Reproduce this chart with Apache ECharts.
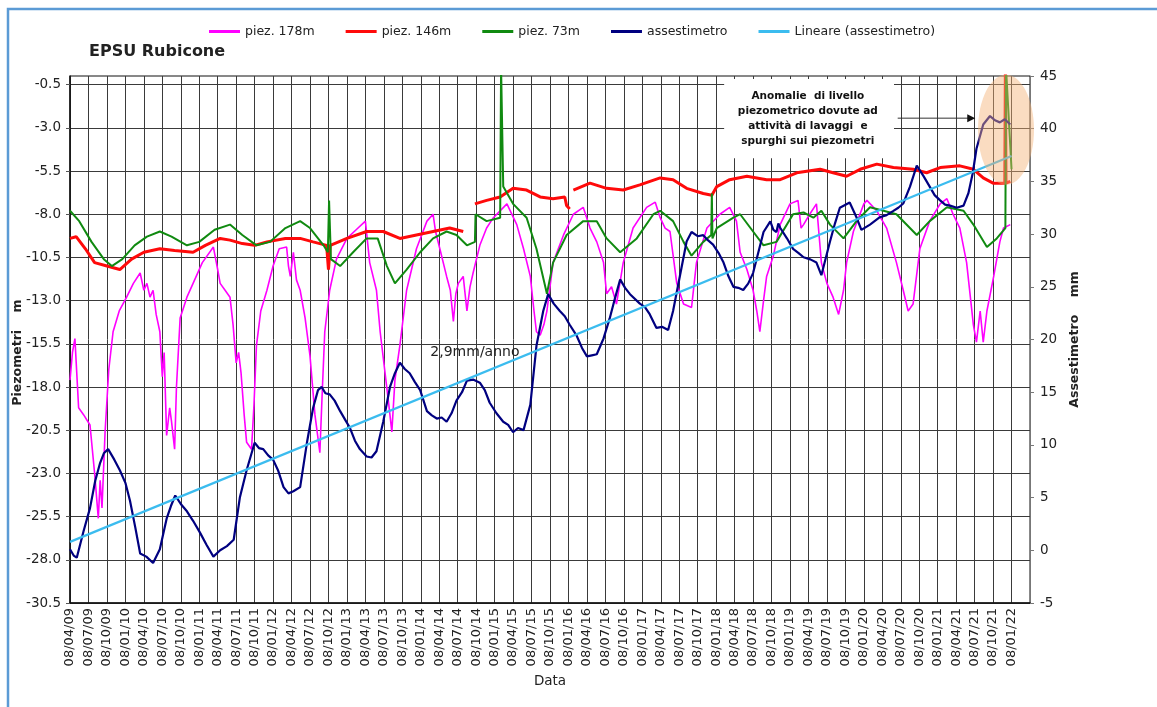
<!DOCTYPE html>
<html><head><meta charset="utf-8">
<script src="https://cdn.jsdelivr.net/npm/echarts@6/dist/echarts.min.js"></script>
<style>html,body{margin:0;padding:0;background:#fff}#c{width:1157px;height:707px}</style>
</head><body><div id="c"></div>
<script>
// x values are months elapsed since 08/04/09
const tickLabels = ['08/04/09','08/07/09','08/10/09',
 '08/01/10','08/04/10','08/07/10','08/10/10',
 '08/01/11','08/04/11','08/07/11','08/10/11',
 '08/01/12','08/04/12','08/07/12','08/10/12',
 '08/01/13','08/04/13','08/07/13','08/10/13',
 '08/01/14','08/04/14','08/07/14','08/10/14',
 '08/01/15','08/04/15','08/07/15','08/10/15',
 '08/01/16','08/04/16','08/07/16','08/10/16',
 '08/01/17','08/04/17','08/07/17','08/10/17',
 '08/01/18','08/04/18','08/07/18','08/10/18',
 '08/01/19','08/04/19','08/07/19','08/10/19',
 '08/01/20','08/04/20','08/07/20','08/10/20',
 '08/01/21','08/04/21','08/07/21','08/10/21',
 '08/01/22'];
const leftTicks = [-30.5,-28,-25.5,-23,-20.5,-18,-15.5,-13,-10.5,-8,-5.5,-3,-0.5];
const seriesNames = ['piez. 178m','piez. 146m','piez. 73m','assestimetro','Lineare (assestimetro)'];

const piez178 = [[0,-17.6],[0.4,-16.0],[0.8,-15.2],[1.4,-19.2],[2.2,-19.6],[3.25,-20.2],[4.0,-23.0],[4.6,-25.6],[4.9,-23.4],[5.2,-25.0],[5.7,-20.6],[6.3,-17.0],[7,-14.8],[8,-13.6],[9.2,-12.8],[10.3,-12.0],[11.4,-11.4],[12.0,-12.4],[12.5,-12.0],[13.0,-12.8],[13.5,-12.4],[14.0,-13.8],[14.6,-14.8],[15.0,-17.4],[15.3,-16.0],[15.7,-20.8],[16.2,-19.2],[16.5,-20.0],[17,-21.6],[17.3,-18.0],[17.9,-14],[19,-12.8],[20,-12],[21.5,-10.8],[23.3,-9.9],[24.0,-11.2],[24.4,-12],[25.2,-12.4],[26,-12.8],[26.5,-14.4],[27,-16.6],[27.4,-16.0],[27.8,-17.2],[28.3,-19.6],[28.7,-21.2],[29.5,-21.6],[29.9,-19.0],[30.3,-15.6],[31,-13.6],[32,-12.4],[33,-11.0],[34,-10],[35.2,-9.9],[35.5,-11.0],[35.8,-11.6],[36.3,-10.2],[36.8,-11.8],[37.4,-12.4],[38.2,-14.0],[39,-16.2],[39.8,-19.6],[40.6,-21.8],[41,-18.2],[41.4,-14.8],[42.2,-12.4],[43.3,-10.6],[45,-9.4],[46.5,-8.9],[48,-8.4],[48.7,-10.8],[49.8,-12.4],[50.4,-14.8],[51.2,-17.2],[51.8,-19.0],[52.3,-20.6],[52.8,-17.6],[53.6,-15.6],[54.7,-12.4],[56.3,-10],[58,-8.4],[59,-8.0],[59.4,-9.0],[60.1,-10],[61.2,-11.6],[61.8,-12.4],[62.3,-14.2],[62.7,-12.6],[63.1,-12.0],[63.9,-11.6],[64.5,-13.6],[65.0,-12.2],[65.5,-11.4],[66.6,-9.8],[67.7,-8.8],[68.8,-8.2],[71,-7.4],[72.6,-8.6],[73.7,-10],[74.8,-11.6],[75.4,-13.6],[75.8,-14.8],[76.4,-15],[77,-14.4],[77.5,-13.6],[78.5,-10.8],[80.2,-9.2],[81.8,-8.0],[83.4,-7.6],[84.5,-8.8],[85.6,-9.6],[86.7,-10.8],[87.2,-12.6],[88,-12.2],[88.8,-13.2],[89.9,-10.8],[91.5,-8.8],[93.7,-7.6],[95.1,-7.3],[95.9,-8.2],[96.7,-8.8],[97.5,-9.0],[98.6,-12],[99.7,-13.2],[101,-13.4],[101.8,-10.8],[103.5,-8.8],[105.6,-8.0],[107.2,-7.6],[108.3,-8.4],[108.9,-10.2],[110,-11.2],[111,-12.4],[111.6,-13.6],[112.1,-14.8],[112.7,-13.0],[113.2,-11.6],[114.3,-10.4],[115.4,-8.6],[117,-7.4],[118.3,-7.2],[118.8,-8.8],[119.2,-8.6],[120.2,-8.0],[121.3,-7.4],[122.1,-10.8],[123,-12.0],[124,-12.8],[124.9,-13.8],[125.7,-12.4],[126.2,-10.8],[127.3,-9.0],[129,-7.4],[129.5,-7.2],[131.1,-7.8],[132.7,-8.8],[134.3,-10.8],[135.4,-12.4],[136.2,-13.6],[137,-13.2],[138.1,-10],[139.7,-8.4],[141.4,-7.4],[142.5,-7.1],[143.5,-8.0],[144.6,-8.8],[145.7,-10.8],[146.8,-14.4],[147.3,-15.4],[147.9,-13.6],[148.4,-15.4],[149,-13.6],[150.1,-11.6],[151.1,-9.6],[151.7,-8.8],[152.8,-8.6]];

const piez146 = [[0,-9.4],[1,-9.3],[2.5,-10.0],[4,-10.8],[6,-11.0],[8.1,-11.2],[10,-10.6],[12,-10.2],[14.6,-10.0],[17,-10.1],[20,-10.2],[22,-9.8],[24.4,-9.4],[26,-9.5],[28,-9.7],[30,-9.8],[32,-9.6],[35,-9.4],[37.4,-9.4],[39.5,-9.6],[41.7,-9.8],[42.0,-11.2],[42.3,-9.8],[45,-9.4],[48.2,-9.0],[50.9,-9.0],[53.6,-9.4],[56.3,-9.2],[59,-9.0],[61.7,-8.8],[63.9,-9.0],[64.5,'-'],[65.8,-7.4],[67.7,-7.2],[69.9,-7.0],[72,-6.5],[74.2,-6.6],[76.4,-7.0],[78.5,-7.1],[80.4,-7.0],[80.7,-7.5],[81.2,-7.7],[81.5,'-'],[81.8,-6.6],[84.5,-6.2],[87.2,-6.5],[89.9,-6.6],[92.6,-6.3],[95.9,-5.9],[98,-6.0],[100.2,-6.5],[102.9,-6.8],[104.3,-6.9],[105.1,-6.4],[107.2,-6.0],[110,-5.8],[113.2,-6.0],[115.4,-6.0],[118.1,-5.6],[121.9,-5.4],[124,-5.6],[126.2,-5.8],[128.4,-5.4],[131.1,-5.1],[133.8,-5.3],[137,-5.4],[139.2,-5.6],[141.4,-5.3],[144.6,-5.2],[146.8,-5.4],[148.4,-5.9],[150,-6.2],[151.9,-6.2],[152,0.5],[152.1,-6.2],[152.8,-6.1]];

const piez73 = [[0,-7.8],[1.5,-8.4],[3.5,-9.6],[5.5,-10.6],[6.8,-11.0],[8.5,-10.6],[10.5,-9.8],[12.5,-9.3],[14.6,-9.0],[16.5,-9.3],[19,-9.8],[21,-9.6],[23.5,-8.9],[26,-8.6],[28,-9.2],[30.3,-9.8],[32.5,-9.6],[35,-8.8],[37.4,-8.4],[39,-8.8],[41.2,-9.8],[41.9,-10.2],[42.1,-7.2],[42.4,-10.6],[43.9,-11.0],[46,-10.2],[48.2,-9.4],[50,-9.4],[51.5,-11],[52.8,-12],[54.7,-11.2],[56.9,-10.2],[59,-9.4],[61.2,-9.0],[62.8,-9.2],[64.5,-9.8],[65.8,-9.6],[65.9,-8.0],[67.7,-8.4],[69.9,-8.2],[70.05,0.5],[70.4,-6.4],[72,-7.4],[74.2,-8.2],[75.8,-10],[77.5,-12.6],[78.5,-10.8],[80.7,-9.2],[83.4,-8.4],[85.6,-8.4],[87.2,-9.4],[89.4,-10.2],[92.1,-9.4],[94.8,-8.0],[95.9,-7.8],[98,-8.4],[99.7,-9.6],[101,-10.4],[102.9,-9.6],[104.2,-9.2],[104.3,-6.8],[104.4,-9.4],[105.1,-8.8],[107.8,-8.2],[108.9,-8.0],[111,-9.0],[112.7,-9.8],[114.8,-9.6],[117.5,-8.0],[119.2,-7.9],[120.8,-8.2],[122.1,-7.8],[123.5,-8.6],[125.7,-9.4],[127.8,-8.4],[130,-7.6],[132.2,-7.8],[134.3,-8.0],[137.6,-9.2],[139.7,-8.4],[142.5,-7.6],[145.2,-7.8],[146.8,-8.6],[149,-9.9],[150.6,-9.4],[152,-8.8],[152.1,0.5],[153,-5.4]];

const assestimetro = [[0,0.1],[0.6,-0.5],[1.1,-0.7],[2.2,1.8],[3.25,4.0],[4.1,6.6],[4.9,8.3],[5.5,9.2],[6.2,9.6],[7.2,8.6],[8.1,7.6],[9,6.4],[9.75,4.7],[10.6,2.2],[11.4,-0.3],[12.4,-0.6],[13.5,-1.2],[14.6,0.1],[15.7,3.0],[16.4,4.2],[17.1,5.2],[18,4.4],[19,3.7],[20,2.8],[21.1,1.7],[22.2,0.5],[23.3,-0.6],[24.4,0.0],[25.5,0.4],[26.6,1.0],[27.6,5.0],[28.7,7.6],[29.4,9.0],[30,10.2],[30.7,9.7],[31.4,9.6],[32.2,9.0],[33,8.6],[33.8,7.6],[34.7,6.0],[35.5,5.4],[36.3,5.6],[37.4,6.0],[38.5,10.2],[39.5,13.5],[40.3,15.2],[40.9,15.5],[41.5,14.9],[42.2,14.8],[43,14.2],[43.9,13.2],[44.7,12.4],[45.5,11.6],[46.3,10.4],[47.1,9.6],[48.2,8.9],[49,8.8],[49.8,9.4],[50.9,12.2],[52,15.5],[52.8,16.8],[53.6,17.8],[54.4,17.2],[55.2,16.8],[56,16.0],[56.9,15.2],[58,13.2],[58.8,12.8],[59.6,12.5],[60.4,12.6],[61.2,12.2],[62,13.0],[62.8,14.2],[63.7,15.0],[64.5,16.1],[65.5,16.2],[66.6,15.9],[67.4,15.2],[68.2,14.0],[69.3,13.0],[70.4,12.2],[71.2,11.9],[72,11.2],[72.8,11.6],[73.7,11.4],[74.8,13.8],[75.8,19.4],[76.9,22.7],[77.7,24.3],[78.6,23.4],[79.6,22.7],[80.4,22.2],[81.2,21.4],[82.3,20.4],[83.2,19.2],[84,18.4],[84.8,18.5],[85.6,18.6],[86.7,20.1],[87.7,22],[88.6,24.0],[89.4,25.7],[90.2,24.9],[91,24.3],[92.6,23.4],[93.4,23.1],[94.2,22.4],[95.3,21.1],[96.2,21.2],[97.2,20.9],[98,22.7],[99.1,26],[100.2,29.3],[101,30.2],[102,29.8],[102.9,29.9],[103.7,29.4],[104.5,29],[105.4,28.2],[106.2,27.3],[107,26.0],[107.8,25],[108.6,24.9],[109.4,24.7],[110.2,25.3],[111,26.3],[112.7,30.2],[113.8,31.2],[114.3,30.4],[114.8,30.2],[115.1,31.0],[115.4,30.6],[116.5,29.6],[117.5,28.6],[118.4,28.2],[119.2,27.8],[120.3,27.6],[121.3,27.3],[122.1,26.1],[123.5,29.3],[124.3,31.0],[125.1,32.5],[126.7,33],[127.8,31.6],[128.6,30.4],[130,30.9],[131.6,31.6],[132.7,31.8],[133.8,32.2],[134.6,32.5],[135.4,32.9],[136.5,34.5],[137.6,36.5],[138.7,35.5],[139.7,34.5],[140.5,33.7],[141.4,33.2],[142.2,32.8],[143,32.7],[144.1,32.5],[145.2,32.7],[146,33.9],[146.7,35.8],[147.3,38.1],[148.4,40.4],[149.5,41.2],[150.3,40.8],[151.1,40.6],[151.9,40.9],[152.8,40.4]];

const lineare = [[0,0.8],[153,37.4]];

const FONT = 'DejaVu Sans';
const chart = echarts.init(document.getElementById('c'), null, {renderer:'canvas'});
const mkLine = (name, data, color, width, yIdx) => ({
  name, type:'line', data, yAxisIndex:yIdx, symbol:'none', showSymbol:false,
  lineStyle:{color, width}, itemStyle:{color}, connectNulls:false, animation:false, clip:true
});
const option = {
  animation:false,
  backgroundColor:'#fff',
  textStyle:{fontFamily:FONT},
  title:{text:'EPSU Rubicone', left:89, top:44, padding:0,
    textStyle:{fontFamily:FONT, fontSize:16, fontWeight:'bold', color:'#222'}},
  legend:{data:seriesNames, left:209, top:25, padding:0, itemWidth:31, itemHeight:3, itemGap:31,
    icon:'rect',
    textStyle:{fontFamily:FONT, fontSize:12.5, color:'#222'}},
  grid:{left:70, right:127, top:76, bottom:104, containLabel:false, outerBoundsMode:'none',
    show:true, borderColor:'#111', borderWidth:1},
  xAxis:{type:'value', min:0, max:156, interval:3, name:'Data', nameLocation:'middle', nameGap:71,
    nameMoveOverlap:false,
    nameTextStyle:{fontFamily:FONT, fontSize:13.5, color:'#222'},
    axisLine:{show:true, onZero:false, lineStyle:{color:'#111', width:1.5}},
    axisTick:{show:false},
    axisLabel:{rotate:90, fontFamily:FONT, fontSize:13, color:'#222', margin:5,
      formatter:(v)=>{const i=Math.round(v/3); return (tickLabels[i]!==undefined)?tickLabels[i]:'';}},
    splitLine:{show:true, lineStyle:{color:'#3a3a3a', width:1}}},
  yAxis:[
    {type:'value', min:-30.5, max:0, position:'left', name:'Piezometri    m      ',
     nameLocation:'middle', nameGap:46, nameRotate:90, nameMoveOverlap:false,
     nameTextStyle:{fontFamily:FONT, fontSize:12.5, fontWeight:'bold', color:'#222'},
     axisLine:{show:true, onZero:false, lineStyle:{color:'#111', width:1.5}},
     axisTick:{show:true, customValues:leftTicks, length:4, lineStyle:{color:'#555'}},
     axisLabel:{customValues:leftTicks, fontFamily:FONT, fontSize:13.5, color:'#222', margin:9,
       formatter:(v)=>Number(v).toFixed(1)},
     splitLine:{show:true, lineStyle:{color:'#3a3a3a', width:1}}},
    {type:'value', min:-5, max:45, interval:5, position:'right', name:'Assestimetro    mm',
     nameLocation:'middle', nameGap:38, nameRotate:90, nameMoveOverlap:false,
     nameTextStyle:{fontFamily:FONT, fontSize:12.5, fontWeight:'bold', color:'#222'},
     axisLine:{show:true, onZero:false, lineStyle:{color:'#777', width:1}},
     axisTick:{show:true, length:4, lineStyle:{color:'#777'}},
     axisLabel:{fontFamily:FONT, fontSize:13.5, color:'#222', margin:10},
     splitLine:{show:false}}
  ],
  series:[
    mkLine(seriesNames[0], piez178, '#ff00ff', 1.6, 0),
    mkLine(seriesNames[1], piez146, '#ff0a0a', 3, 0),
    mkLine(seriesNames[2], piez73, '#108a10', 2, 0),
    mkLine(seriesNames[3], assestimetro, '#000080', 2.2, 1),
    mkLine(seriesNames[4], lineare, '#3bbcef', 2.2, 1)
  ]
};
chart.setOption(option);

// annotations anchored to data coordinates (month, mm)
const P = (m, r) => chart.convertToPixel({seriesIndex:3}, [m, r]);
const boxA = P(106.3, 45), boxB = P(133.9, 37.2);
const txtC = P(119.9, 40.9);
const arA = P(134.5, 41.0), arB = P(147.1, 41.0);
const ell = P(152.1, 39.9);
const trendTxt = P(65.8, 18.8);
chart.setOption({graphic:[
  {type:'rect', silent:true, z:100, zlevel:0, shape:{x:8, y:9, width:1300, height:900},
   style:{fill:'none', stroke:'#5b9bd5', lineWidth:2.5}},
  {type:'rect', silent:true, z:1, shape:{x:boxA[0], y:boxA[1]+3, width:boxB[0]-boxA[0], height:boxB[1]-boxA[1]-3},
   style:{fill:'#fff'}},
  {type:'text', silent:true, z:100, x:txtC[0], y:txtC[1],
   style:{text:'Anomalie  di livello\npiezometrico dovute ad\nattività di lavaggi  e\nspurghi sui piezometri',
     align:'center', verticalAlign:'middle', lineHeight:15, fill:'#111',
     font:'bold 10.5px "DejaVu Sans"'}},
  {type:'line', silent:true, z:100, shape:{x1:arA[0], y1:arA[1], x2:arB[0]-7, y2:arB[1]},
   style:{stroke:'#333', lineWidth:1}},
  {type:'polygon', silent:true, z:100, shape:{points:[[arB[0],arB[1]],[arB[0]-8,arB[1]-4],[arB[0]-8,arB[1]+4]]},
   style:{fill:'#111'}},
  {type:'ellipse', silent:true, z:100, shape:{cx:ell[0], cy:ell[1], rx:28, ry:55},
   style:{fill:'rgba(244,178,118,0.45)'}},
  {type:'text', silent:true, z:100, x:trendTxt[0], y:trendTxt[1],
   style:{text:'2,9mm/anno', align:'center', verticalAlign:'middle', fill:'#222',
     font:'14px "DejaVu Sans"'}}
]});
</script>
</body></html>
